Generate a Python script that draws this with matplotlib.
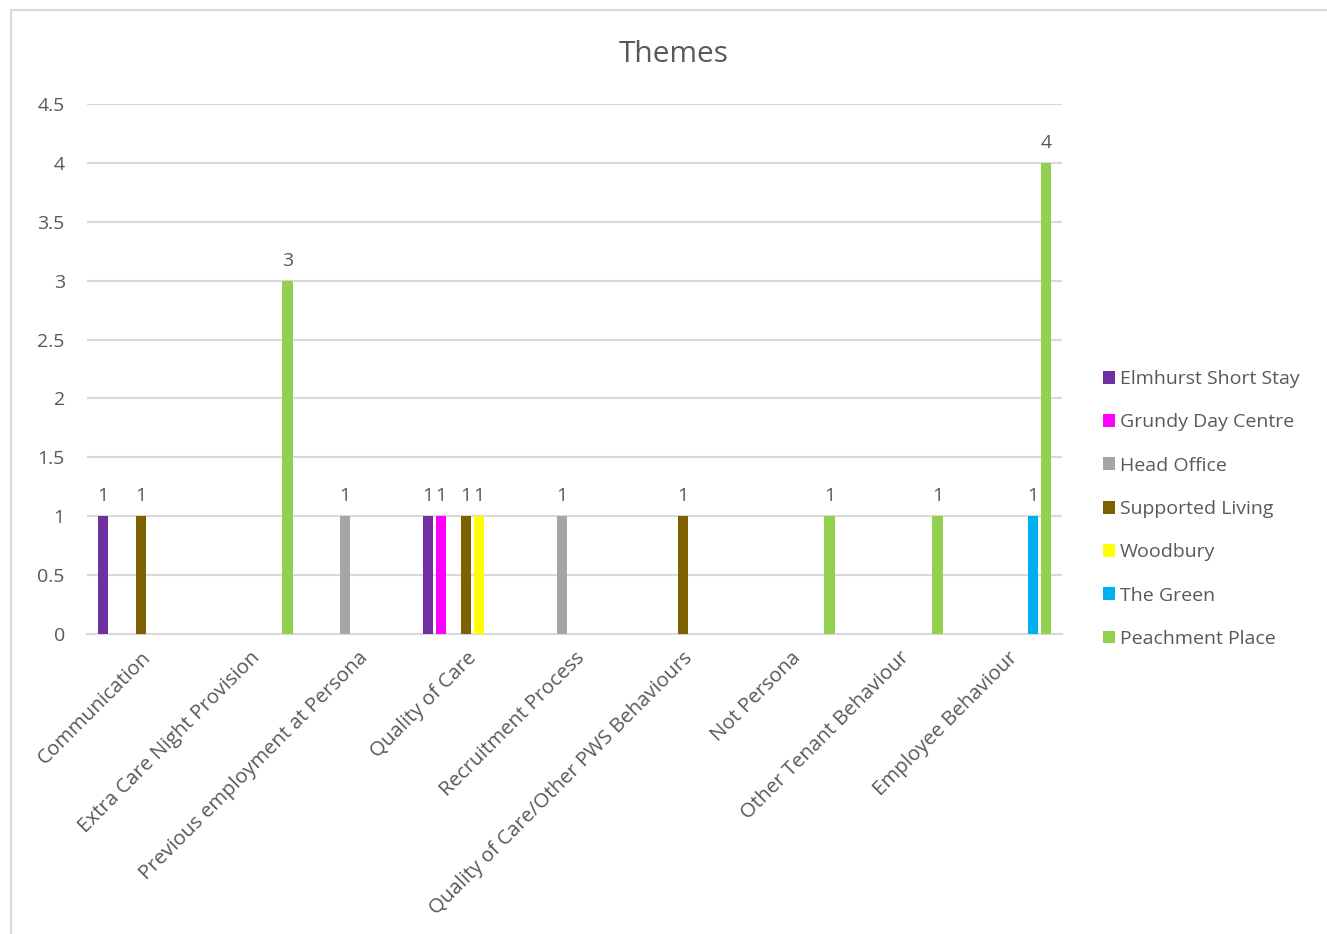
import numpy as np
import matplotlib
matplotlib.use("Agg")
import matplotlib.pyplot as plt
from matplotlib.patches import Rectangle

plt.rcParams['font.family'] = ['Open Sans', 'DejaVu Sans']

categories = ["Communication", "Extra Care Night Provision", "Previous employment at Persona",
              "Quality of Care", "Recruitment Process", "Quality of Care/Other PWS Behaviours",
              "Not Persona", "Other Tenant Behaviour", "Employee Behaviour"]
series_names = ["Elmhurst Short Stay", "Grundy Day Centre", "Head Office", "Supported Living",
                "Woodbury", "The Green", "Peachment Place"]
nan = np.nan
elmhurst = [1, nan, nan, 1, nan, nan, nan, nan, nan]
grundy = [nan, nan, nan, 1, nan, nan, nan, nan, nan]
head_office = [nan, nan, 1, nan, 1, nan, nan, nan, nan]
supported_living = [1, nan, nan, 1, nan, 1, nan, nan, nan]
woodbury = [nan, nan, nan, 1, nan, nan, nan, nan, nan]
the_green = [nan, nan, nan, nan, nan, nan, nan, nan, 1]
peachment = [nan, 3, nan, nan, nan, nan, 1, 1, 4]
colors = ["#7030A0", "#FF00FF", "#A5A5A5", "#7F6000", "#FFFF00", "#00B0F0", "#92D050"]
series = [elmhurst, grundy, head_office, supported_living, woodbury, the_green, peachment]

fig = plt.figure(figsize=(13.27, 9.34), dpi=100)
ax = fig.add_axes([87/1327, 1-634/934, (1062-87)/1327, (634-104)/934])

txt = "#595959"
grid = "#D9D9D9"
fs = 14
x = np.arange(len(categories))
slot = 12.7/108.3
bw = 10.5/108.3
for i, (vals, c) in enumerate(zip(series, colors)):
    pos = x + (i-3)*slot
    v = np.array(vals, dtype=float)
    ax.bar(pos, np.nan_to_num(v), width=bw, color=c, zorder=3, label=series_names[i])
    for p, val in zip(pos, v):
        if not np.isnan(val):
            ax.annotate(f"{int(val)}", (p, val), xytext=(0, 8), textcoords="offset points",
                        ha="center", va="bottom", fontsize=fs, color=txt)

ax.set_xlim(-0.5, len(categories)-0.5)
ax.set_ylim(0, 4.5)
ax.set_yticks(np.arange(0, 4.51, 0.5))
ax.set_yticklabels(["0", "0.5", "1", "1.5", "2", "2.5", "3", "3.5", "4", "4.5"])
ax.yaxis.grid(True, color=grid, lw=1.5, zorder=0)
ax.set_axisbelow(True)
for s in ["top", "right", "left"]:
    ax.spines[s].set_visible(False)
ax.spines["bottom"].set_color(grid)
ax.spines["bottom"].set_linewidth(1.5)
ax.tick_params(axis="y", length=0, labelsize=fs, labelcolor=txt, pad=16)
ax.tick_params(axis="x", length=0, labelsize=14.7, labelcolor=txt, pad=10)
ax.set_xticks(x)
ax.set_xticklabels(categories, rotation=45, ha="right", rotation_mode="anchor")

fig.text(674/1327, 1-55/934, "Themes", ha="center", va="center", fontsize=21.5, color=txt)

leg = fig.legend(loc="center left", bbox_to_anchor=(1085/1327, 1-509/934), frameon=False,
                 fontsize=fs, labelcolor=txt, handlelength=0.65, handleheight=0.65,
                 handletextpad=0.25, labelspacing=1.3)

fig.patches.append(Rectangle((11/1327, -0.1), 1.2, 1-10/934+0.1, transform=fig.transFigure,
                             fill=False, edgecolor="#D9D9D9", lw=1.5))
fig.savefig("out.png", dpi=100)
